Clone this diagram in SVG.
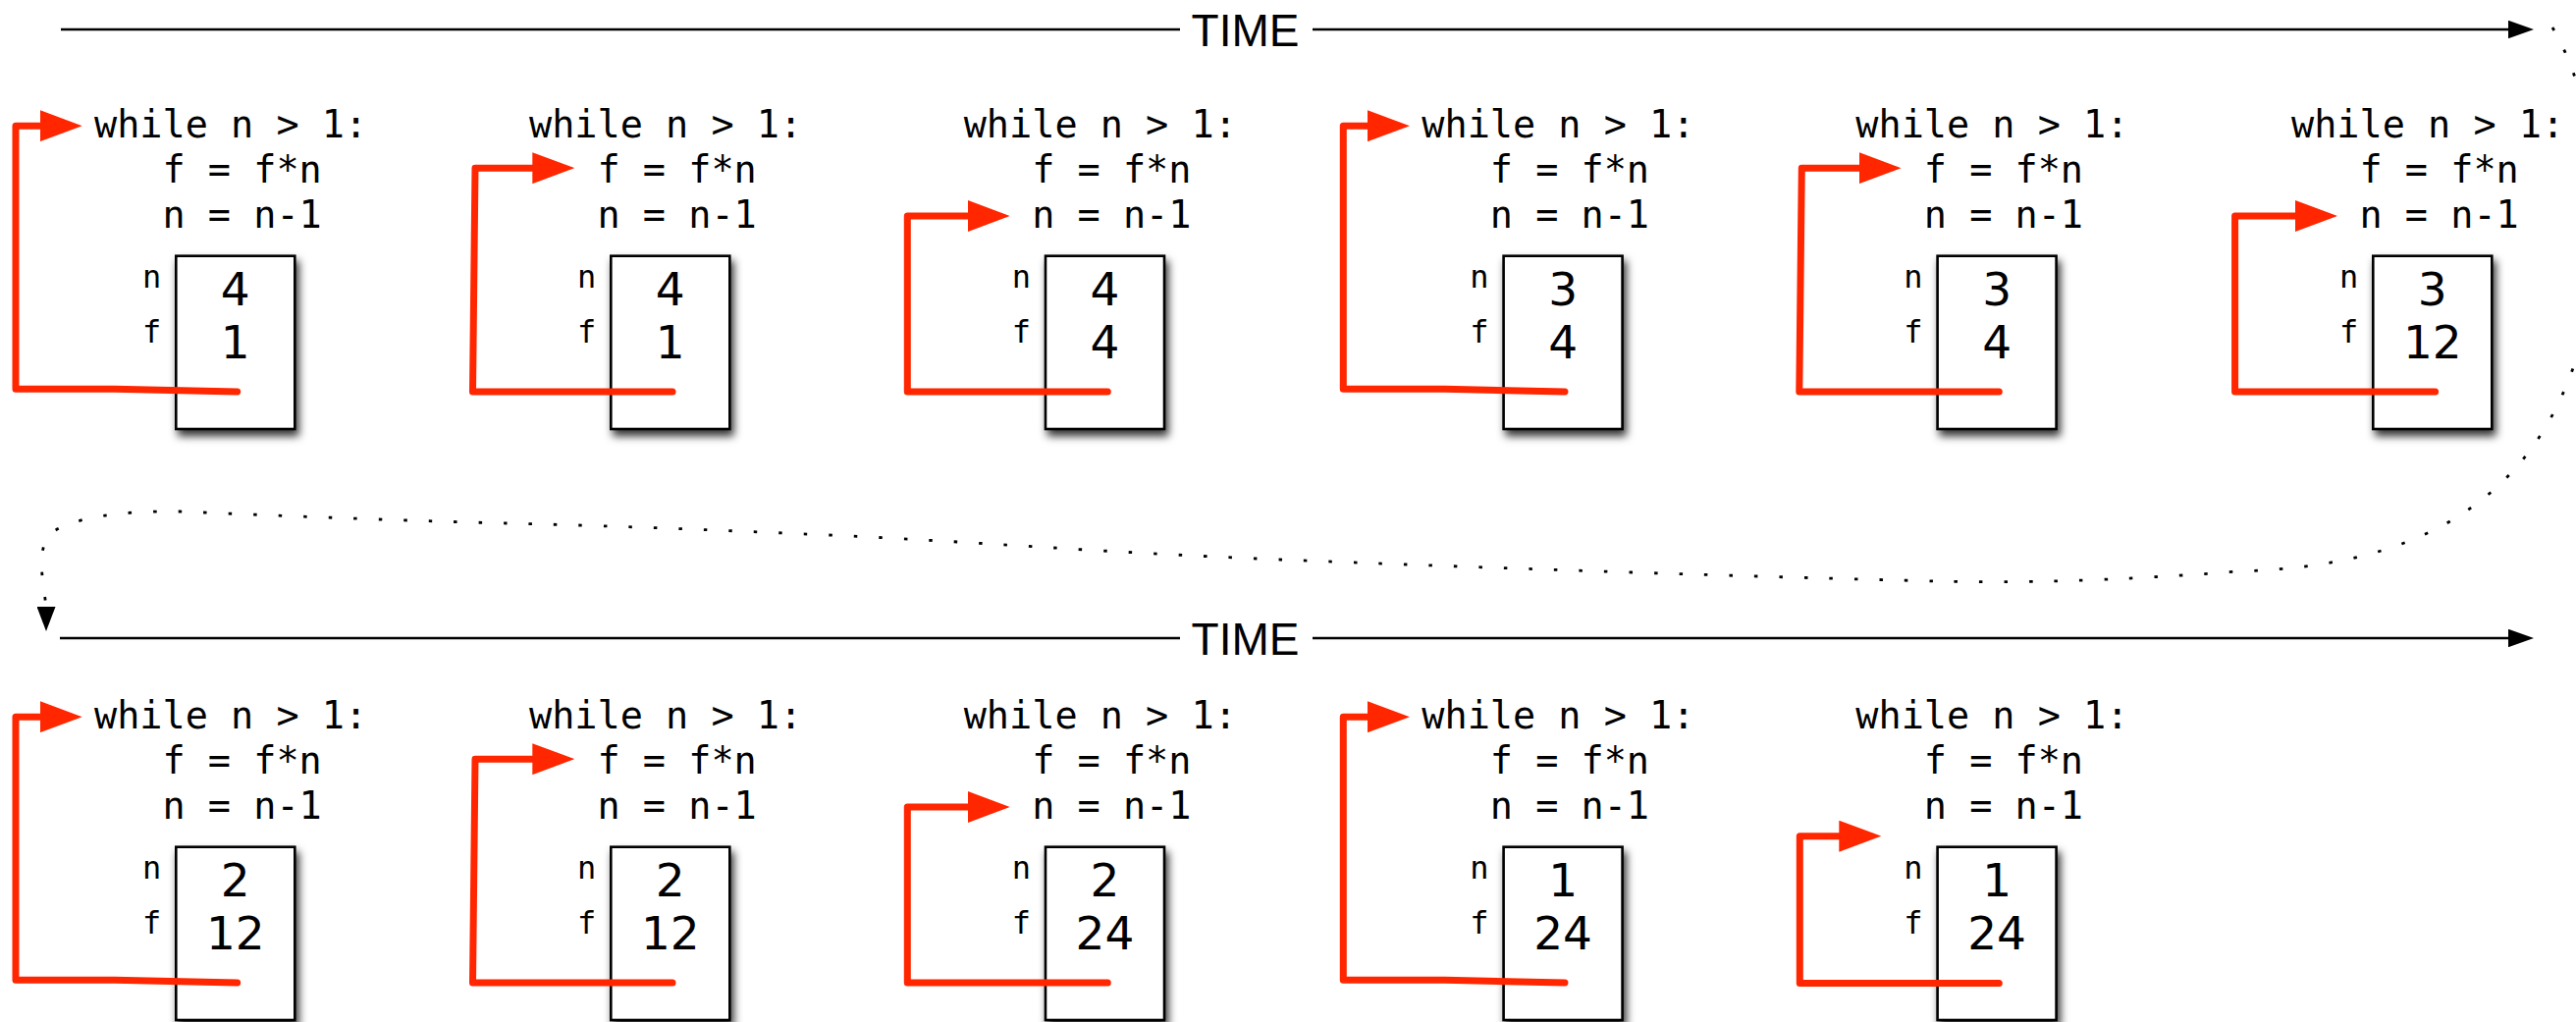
<svg xmlns="http://www.w3.org/2000/svg" width="2624" height="1041" viewBox="0 0 2624 1041">
<style>
.code{font-family:"DejaVu Sans Mono","Liberation Mono",monospace;font-size:38.5px;fill:#000}
.lbl{font-family:"DejaVu Sans Mono","Liberation Mono",monospace;font-size:32px;fill:#000}
.val{font-family:"DejaVu Sans","Liberation Sans",sans-serif;font-size:47px;fill:#000;text-anchor:middle}
.box{fill:#fff;stroke:#000;stroke-width:2.6;filter:url(#sh)}
.loop{fill:none;stroke:#ff2600;stroke-width:7;stroke-linejoin:round;stroke-linecap:round;marker-end:url(#rh)}
.time{fill:none;stroke:#000;stroke-width:2.6}
.timeA{marker-end:url(#bh)}
.tlabel{font-family:"Liberation Sans",Arial,sans-serif;font-size:46px;fill:#000;text-anchor:middle}
.dots{fill:none;stroke:#000;stroke-width:2.8;stroke-dasharray:3.5 22;marker-end:url(#dh)}
</style>
<defs>
<filter id="sh" x="-30%" y="-20%" width="170%" height="150%">
<feDropShadow dx="3" dy="6" stdDeviation="4.5" flood-color="#000" flood-opacity="0.8"/>
</filter>
<marker id="rh" markerUnits="userSpaceOnUse" viewBox="0 0 43 32" markerWidth="43" markerHeight="32" refX="0" refY="16" orient="auto">
<path d="M0,0 L43,16 L0,32 Z" fill="#ff2600"/>
</marker>
<marker id="bh" markerUnits="userSpaceOnUse" viewBox="0 0 26 18.5" markerWidth="26" markerHeight="18.5" refX="0" refY="9.25" orient="auto">
<path d="M0,0 L26,9.25 L0,18.5 Z" fill="#000"/>
</marker>
<marker id="dh" markerUnits="userSpaceOnUse" viewBox="0 0 25 19" markerWidth="25" markerHeight="19" refX="0" refY="9.5" orient="90">
<path d="M0,0 L25,9.5 L0,19 Z" fill="#000"/>
</marker>
</defs>
<rect width="2624" height="1041" fill="#fff"/>

<g id="frame-1-1">
<text class="code" x="96" y="140">while n &gt; 1:</text>
<text class="code" x="165.5" y="186">f = f*n</text>
<text class="code" x="165.5" y="232">n = n-1</text>
<text class="lbl" x="145" y="293.3">n</text>
<text class="lbl" x="145" y="349.3">f</text>
<rect class="box" x="179.3" y="260.7" width="121" height="176.3"/>
<text class="val" x="239.8" y="310.7">4</text>
<text class="val" x="239.8" y="365">1</text>
</g>
<g id="frame-1-2">
<text class="code" x="539" y="140">while n &gt; 1:</text>
<text class="code" x="608.5" y="186">f = f*n</text>
<text class="code" x="608.5" y="232">n = n-1</text>
<text class="lbl" x="588" y="293.3">n</text>
<text class="lbl" x="588" y="349.3">f</text>
<rect class="box" x="622.3" y="260.7" width="121" height="176.3"/>
<text class="val" x="682.8" y="310.7">4</text>
<text class="val" x="682.8" y="365">1</text>
</g>
<g id="frame-1-3">
<text class="code" x="981.7" y="140">while n &gt; 1:</text>
<text class="code" x="1051.2" y="186">f = f*n</text>
<text class="code" x="1051.2" y="232">n = n-1</text>
<text class="lbl" x="1030.7" y="293.3">n</text>
<text class="lbl" x="1030.7" y="349.3">f</text>
<rect class="box" x="1065" y="260.7" width="121" height="176.3"/>
<text class="val" x="1125.5" y="310.7">4</text>
<text class="val" x="1125.5" y="365">4</text>
</g>
<g id="frame-1-4">
<text class="code" x="1448.3" y="140">while n &gt; 1:</text>
<text class="code" x="1517.8" y="186">f = f*n</text>
<text class="code" x="1517.8" y="232">n = n-1</text>
<text class="lbl" x="1497.3" y="293.3">n</text>
<text class="lbl" x="1497.3" y="349.3">f</text>
<rect class="box" x="1531.6" y="260.7" width="121" height="176.3"/>
<text class="val" x="1592.1" y="310.7">3</text>
<text class="val" x="1592.1" y="365">4</text>
</g>
<g id="frame-1-5">
<text class="code" x="1890.3" y="140">while n &gt; 1:</text>
<text class="code" x="1959.8" y="186">f = f*n</text>
<text class="code" x="1959.8" y="232">n = n-1</text>
<text class="lbl" x="1939.3" y="293.3">n</text>
<text class="lbl" x="1939.3" y="349.3">f</text>
<rect class="box" x="1973.6" y="260.7" width="121" height="176.3"/>
<text class="val" x="2034.1" y="310.7">3</text>
<text class="val" x="2034.1" y="365">4</text>
</g>
<g id="frame-1-6">
<text class="code" x="2334" y="140">while n &gt; 1:</text>
<text class="code" x="2403.5" y="186">f = f*n</text>
<text class="code" x="2403.5" y="232">n = n-1</text>
<text class="lbl" x="2383" y="293.3">n</text>
<text class="lbl" x="2383" y="349.3">f</text>
<rect class="box" x="2417.3" y="260.7" width="121" height="176.3"/>
<text class="val" x="2477.8" y="310.7">3</text>
<text class="val" x="2477.8" y="365">12</text>
</g>

<g id="frame-2-1">
<text class="code" x="96" y="742">while n &gt; 1:</text>
<text class="code" x="165.5" y="788">f = f*n</text>
<text class="code" x="165.5" y="834">n = n-1</text>
<text class="lbl" x="145" y="895.3">n</text>
<text class="lbl" x="145" y="951.3">f</text>
<rect class="box" x="179.3" y="862.7" width="121" height="176.3"/>
<text class="val" x="239.8" y="912.7">2</text>
<text class="val" x="239.8" y="967">12</text>
</g>
<g id="frame-2-2">
<text class="code" x="539" y="742">while n &gt; 1:</text>
<text class="code" x="608.5" y="788">f = f*n</text>
<text class="code" x="608.5" y="834">n = n-1</text>
<text class="lbl" x="588" y="895.3">n</text>
<text class="lbl" x="588" y="951.3">f</text>
<rect class="box" x="622.3" y="862.7" width="121" height="176.3"/>
<text class="val" x="682.8" y="912.7">2</text>
<text class="val" x="682.8" y="967">12</text>
</g>
<g id="frame-2-3">
<text class="code" x="981.7" y="742">while n &gt; 1:</text>
<text class="code" x="1051.2" y="788">f = f*n</text>
<text class="code" x="1051.2" y="834">n = n-1</text>
<text class="lbl" x="1030.7" y="895.3">n</text>
<text class="lbl" x="1030.7" y="951.3">f</text>
<rect class="box" x="1065" y="862.7" width="121" height="176.3"/>
<text class="val" x="1125.5" y="912.7">2</text>
<text class="val" x="1125.5" y="967">24</text>
</g>
<g id="frame-2-4">
<text class="code" x="1448.3" y="742">while n &gt; 1:</text>
<text class="code" x="1517.8" y="788">f = f*n</text>
<text class="code" x="1517.8" y="834">n = n-1</text>
<text class="lbl" x="1497.3" y="895.3">n</text>
<text class="lbl" x="1497.3" y="951.3">f</text>
<rect class="box" x="1531.6" y="862.7" width="121" height="176.3"/>
<text class="val" x="1592.1" y="912.7">1</text>
<text class="val" x="1592.1" y="967">24</text>
</g>
<g id="frame-2-5">
<text class="code" x="1890.3" y="742">while n &gt; 1:</text>
<text class="code" x="1959.8" y="788">f = f*n</text>
<text class="code" x="1959.8" y="834">n = n-1</text>
<text class="lbl" x="1939.3" y="895.3">n</text>
<text class="lbl" x="1939.3" y="951.3">f</text>
<rect class="box" x="1973.6" y="862.7" width="121" height="176.3"/>
<text class="val" x="2034.1" y="912.7">1</text>
<text class="val" x="2034.1" y="967">24</text>
</g>

<g id="time-labels">
<text class="tlabel" x="1268.5" y="46.5">TIME</text>
<text class="tlabel" x="1268.5" y="666.5">TIME</text>
</g>

<g id="connectors">
<path class="time" d="M62,30 H1202"/>
<path class="time timeA" d="M1337,30 H2555"/>
<path class="time" d="M61,650 H1202"/>
<path class="time timeA" d="M1337,650 H2555"/>
<path class="dots" d="M2600,28 C2660,130 2650,290 2622,372 C2560,552 2400,578 2280,582 C2150,592 2050,594 1975,592 C1800,588 1500,578 1304,570 S1000,552 844,545 S600,535 516,533 S300,526 183,521 C120,520 75,528 55,541 C35,555 44,592 47,618"/>

<path class="loop" d="M241.7,399 L117,396.2 L16,396.2 L16,128.2 L40.7,128.2"/>
<path class="loop" d="M685,399 L481.5,399 L484,171.2 L542.3,171.2"/>
<path class="loop" d="M1128.3,399 L924.3,399 L924.3,220 L985.7,220"/>
<path class="loop" d="M1594,399 L1472,396.2 L1368.3,396.2 L1368.3,128.2 L1393,128.2"/>
<path class="loop" d="M2036.3,399 L1832.8,399 L1835.3,171.2 L1893.6,171.2"/>
<path class="loop" d="M2480.6,399 L2276.6,399 L2276.6,220 L2338,220"/>

<path class="loop" d="M241.7,1001 L117,998.2 L16,998.2 L16,730.2 L40.7,730.2"/>
<path class="loop" d="M685,1001 L481.5,1001 L484,773.2 L542.3,773.2"/>
<path class="loop" d="M1128.3,1001 L924.3,1001 L924.3,822 L985.7,822"/>
<path class="loop" d="M1594,1001 L1472,998.2 L1368.3,998.2 L1368.3,730.2 L1393,730.2"/>
<path class="loop" d="M2036.3,1001.5 L1833.3,1001.5 L1833.3,851.7 L1873.3,851.7"/>
</g>
</svg>
